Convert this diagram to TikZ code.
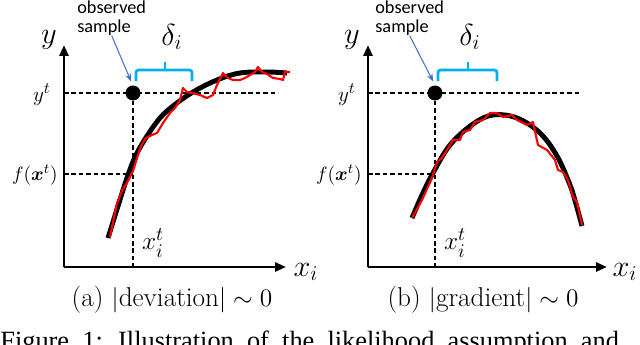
\documentclass[tikz,border=0pt]{standalone}
\usepackage{amsmath}
\usepackage{fontspec}
\newfontfamily\calibrifont{Carlito}
\newfontfamily\timesfont{Liberation Serif}
\usetikzlibrary{arrows.meta,positioning}

\definecolor{bracecyan}{RGB}{0,176,240}
\definecolor{pointerblue}{RGB}{68,114,196}

\begin{document}
\begin{tikzpicture}[x=0.02cm, y=-0.02cm,
  axis/.style={line width=1.7pt, -{Triangle[length=2.2mm,width=1.8mm]}},
  guide/.style={line width=0.9pt, dash pattern=on 2.6pt off 1.6pt},
  truth/.style={line width=2.8pt, black},
  noisy/.style={red, line width=1.2pt, line join=round},
  sample/.style={circle, fill=black, inner sep=0pt, minimum size=0.3cm},
  callout/.style={font=\calibrifont\fontsize{10.4}{11}\selectfont, align=left, inner sep=0pt},
  pointer/.style={pointerblue, line width=0.6pt, -{Stealth[length=1.6mm,width=1.2mm]}},
  bracket/.style={bracecyan, line width=1.6pt, rounded corners=1.5pt},
  biglabel/.style={font=\fontsize{17}{17}\selectfont, inner sep=0pt},
  ticklabel/.style={inner sep=0pt},
  subcap/.style={font=\fontsize{15.5}{17}\selectfont, inner sep=0pt}
]
  \useasboundingbox (0,0) rectangle (640,345);
  \clip (0,0) rectangle (640,345);

  % (a) deviation
  \coordinate (oA) at (64,267);
  \coordinate (ytopA) at (64,45);
  \coordinate (xendA) at (286,267);
  \coordinate (ytA) at (64,93);
  \coordinate (ytendA) at (278,93);
  \coordinate (fxA) at (64,174);
  \draw[axis] (oA) -- (ytopA);
  \draw[axis] (oA) -- (xendA);
  \node[sample] (obsA) at (133,93) {};
  \draw[guide] (ytA) -- (ytendA);
  \draw[guide] (obsA) -- (obsA |- oA);
  \draw[guide] (fxA) -- (fxA -| obsA);

  \draw[truth] plot[smooth, tension=0.6] coordinates {(108,238) (118,206) (128,175)
    (136,155) (147,136) (160,118) (173,106) (193,92) (217,80) (240,73) (267,72) (287,73)};
  \draw[noisy] (110,237) -- (117,203) -- (122,191) -- (128,181) -- (133,171) -- (138,155)
    -- (141,146) -- (146,138) -- (152,135) -- (157,133) -- (163,123) -- (170,113)
    -- (175,108) -- (180,100) -- (183,88) -- (187,92) -- (192,93) -- (200,95)
    -- (207,98) -- (213,95) -- (217,85) -- (223,73) -- (228,78) -- (233,80)
    -- (240,80) -- (245,78) -- (250,75) -- (255,72) -- (258,67) -- (262,72)
    -- (267,74) -- (273,78) -- (280,79) -- (283,80) -- (285,72) -- (290,72);

  \draw[bracket] (136,81) -- (136,70) -- (192,70) -- (192,81);
  \draw[bracket] (165,70) -- (165,62);
  \node[biglabel] (deltaA) at (172,37) {$\delta_i$};
  \node[callout, anchor=north west] (sampleA) at (77,0) {observed\\sample};
  \draw[pointer] (sampleA.south) -- ([xshift=-1pt,yshift=2pt]obsA.north);

  \node[biglabel] (ylabA) at (49,40) {$y$};
  \node[ticklabel, anchor=east, font=\fontsize{13}{13}\selectfont] (ytlabA) at (51,95) {$y^t$};
  \node[ticklabel, anchor=east, font=\fontsize{11}{11}\selectfont] (fxlabA) at (58,175) {$f(\boldsymbol{x}^t)$};
  \node[ticklabel, font=\fontsize{15}{15}\selectfont] (xtlabA) at (153,243) {$x_i^t$};
  \node[biglabel] (xlabA) at (306,272) {$x_i$};
  \node[subcap] (capA) at (172,300) {(a) $|$deviation$|\sim 0$};

  % (b) gradient
  \coordinate (oB) at (368,267);
  \coordinate (ytopB) at (368,45);
  \coordinate (xendB) at (607,267);
  \coordinate (ytB) at (368,93);
  \coordinate (ytendB) at (580,93);
  \coordinate (fxB) at (368,174);
  \draw[axis] (oB) -- (ytopB);
  \draw[axis] (oB) -- (xendB);
  \node[sample] (obsB) at (435,93) {};
  \draw[guide] (ytB) -- (ytendB);
  \draw[guide] (obsB) -- (obsB |- oB);
  \draw[guide] (fxB) -- (fxB -| obsB);

  \draw[truth] plot[smooth, tension=0.6] coordinates {(412,218) (422,195) (433,173)
    (450,145) (473,124) (493,115) (517,118) (540,133) (557,156) (570,185) (576,204) (582,226)};
  \draw[noisy] (412,218) -- (422,200) -- (432,178) -- (437,162) -- (442,158) -- (447,150)
    -- (453,140) -- (460,140) -- (463,132) -- (470,130) -- (475,122) -- (483,120)
    -- (490,113) -- (497,113) -- (503,117) -- (512,115) -- (517,120) -- (527,125)
    -- (533,122) -- (538,145) -- (547,150) -- (555,160) -- (558,170) -- (563,172)
    -- (568,180) -- (573,197) -- (577,202) -- (582,225);

  \draw[bracket] (438,81) -- (438,70) -- (497,70) -- (497,81);
  \draw[bracket] (468,70) -- (468,62);
  \node[biglabel] (deltaB) at (470,37) {$\delta_i$};
  \node[callout, anchor=north west] (sampleB) at (375,0) {observed\\sample};
  \draw[pointer] (sampleB.south) -- ([xshift=-1pt,yshift=2pt]obsB.north);

  \node[biglabel] (ylabB) at (352,40) {$y$};
  \node[ticklabel, anchor=east, font=\fontsize{13}{13}\selectfont] (ytlabB) at (356,95) {$y^t$};
  \node[ticklabel, anchor=east, font=\fontsize{11}{11}\selectfont] (fxlabB) at (362,175) {$f(\boldsymbol{x}^t)$};
  \node[ticklabel, font=\fontsize{15}{15}\selectfont] (xtlabB) at (455,243) {$x_i^t$};
  \node[biglabel] (xlabB) at (625,272) {$x_i$};
  \node[subcap] (capB) at (483,300) {(b) $|$gradient$|\sim 0$};

  % caption of the figure, cut by the page edge
  \node[anchor=base west, inner sep=0pt, font=\timesfont\fontsize{15}{15}\selectfont] (figcap)
    at (0,349) {\spaceskip=0.5em Figure 1: Illustration of the likelihood assumption and};
\end{tikzpicture}
\end{document}
